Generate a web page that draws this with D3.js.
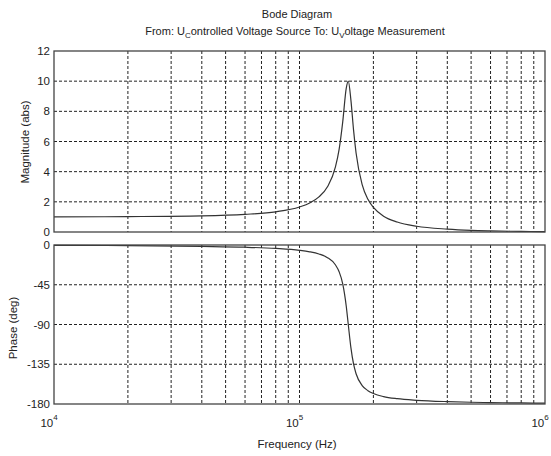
<!DOCTYPE html>
<html>
<head>
<meta charset="utf-8">
<script src="https://cdn.jsdelivr.net/npm/d3@7"></script>
<style>
  body { margin: 0; background: #fff; }
  svg { display: block; font-family: "Liberation Sans", Arial, sans-serif; }
  .grid line { stroke: #222; stroke-width: 1; stroke-dasharray: 3,2; }
  .frame { fill: none; stroke: #444; stroke-width: 1.3; }
  .curve { fill: none; stroke: #333; stroke-width: 1.2; }
  .tick-label { font-size: 11.5px; fill: #222; }
</style>
</head>
<body>
<svg id="bode" width="551" height="456"></svg>
<script>
// Frequency samples (Hz)
const freq = [1e4, 2e4, 4e4, 6e4, 8e4, 1e5, 1.1e5, 1.2e5, 1.3e5, 1.4e5, 1.45e5, 1.5e5,
              1.55e5, 1.58e5, 1.62e5, 1.66e5, 1.7e5, 1.8e5, 1.9e5, 2e5, 2.2e5, 2.5e5,
              3e5, 4e5, 5e5, 6e5, 8e5, 1e6];
// Magnitude (abs)
const magnitude = [1.00, 1.02, 1.07, 1.17, 1.34, 1.66, 1.92, 2.33, 3.00, 4.30, 5.48, 7.30,
                   9.52, 10.0, 8.73, 6.77, 5.24, 3.14, 2.17, 1.63, 1.05, 0.66,
                   0.38, 0.19, 0.11, 0.075, 0.041, 0.026];
// Phase (deg)
const phase = [-0.4, -0.7, -1.6, -2.5, -3.9, -6.0, -7.7, -10.2, -14.3, -22.4, -30.2, -43.9,
               -69.0, -90.0, -116.5, -134.7, -145.7, -159.1, -164.9, -168.1, -171.6, -174.0,
               -175.8, -177.3, -178.0, -178.4, -178.8, -179.1];

const magTicks = [0, 2, 4, 6, 8, 10, 12];
const phaseTicks = [0, -45, -90, -135, -180];
const decades = [1e4, 1e5, 1e6];
const freqGrid = [2e4, 3e4, 4e4, 5e4, 6e4, 7e4, 8e4, 9e4, 1e5,
                  2e5, 3e5, 4e5, 5e5, 6e5, 7e5, 8e5, 9e5];

const svg = d3.select('#bode');
const left = 54, right = 545;

const x = d3.scaleLog().domain([1e4, 1e6]).range([left, right]);
const yMag = d3.scaleLinear().domain([0, 12]).range([232, 51]);
const yPh = d3.scaleLinear().domain([-180, 0]).range([404, 245]);

function panel(y, yTicks, values) {
    const g = svg.append('g');
    const [y0, y1] = y.range();

    // horizontal grid
    g.append('g').attr('class', 'grid')
        .selectAll('line')
        .data(yTicks.filter(t => t !== y.domain()[0] && t !== y.domain()[1]))
        .join('line')
        .attr('x1', left).attr('x2', right)
        .attr('y1', d => y(d)).attr('y2', d => y(d));

    // vertical grid
    g.append('g').attr('class', 'grid')
        .selectAll('line')
        .data(freqGrid)
        .join('line')
        .attr('x1', d => x(d)).attr('x2', d => x(d))
        .attr('y1', y1).attr('y2', y0);

    // y tick labels
    g.selectAll('.ylab')
        .data(yTicks)
        .join('text')
        .attr('class', 'tick-label')
        .attr('x', left - 4)
        .attr('y', d => y(d) + 4)
        .attr('text-anchor', 'end')
        .text(d => d);

    // curve
    const line = d3.line()
        .x((d, i) => x(freq[i]))
        .y(d => y(d))
        .curve(d3.curveMonotoneX);
    g.append('path').attr('class', 'curve').attr('d', line(values));

    // frame
    g.append('rect').attr('class', 'frame')
        .attr('x', left).attr('y', y1)
        .attr('width', right - left).attr('height', y0 - y1);
}

panel(yMag, magTicks, magnitude);
panel(yPh, phaseTicks, phase);

// x tick labels 10^n
const xl = svg.selectAll('.xlab')
    .data(decades)
    .join('text')
    .attr('class', 'tick-label')
    .attr('x', d => x(d) - 5)
    .attr('y', 427)
    .attr('text-anchor', 'middle');
xl.append('tspan').text('10');
xl.append('tspan').attr('dy', -7).attr('font-size', 8).text(d => Math.round(Math.log10(d)));

// titles
svg.append('text').attr('x', 297).attr('y', 18).attr('text-anchor', 'middle')
    .attr('font-size', 11).attr('fill', '#222').text('Bode Diagram');

const sub = svg.append('text').attr('x', 295).attr('y', 35).attr('text-anchor', 'middle')
    .attr('font-size', 11).attr('fill', '#222');
sub.append('tspan').text('From: U');
sub.append('tspan').attr('dy', 3).attr('font-size', 8).text('C');
sub.append('tspan').attr('dy', -3).text('ontrolled Voltage Source  To: U');
sub.append('tspan').attr('dy', 3).attr('font-size', 8).text('V');
sub.append('tspan').attr('dy', -3).text('oltage Measurement');

// axis labels
svg.append('text').attr('x', 297).attr('y', 448).attr('text-anchor', 'middle')
    .attr('font-size', 11.5).attr('fill', '#222').text('Frequency  (Hz)');

svg.append('text')
    .attr('transform', 'translate(29,142) rotate(-90)')
    .attr('text-anchor', 'middle')
    .attr('font-size', 11.5).attr('fill', '#222').text('Magnitude (abs)');

svg.append('text')
    .attr('transform', 'translate(17,328) rotate(-90)')
    .attr('text-anchor', 'middle')
    .attr('font-size', 11.5).attr('fill', '#222').text('Phase (deg)');
</script>
</body>
</html>
